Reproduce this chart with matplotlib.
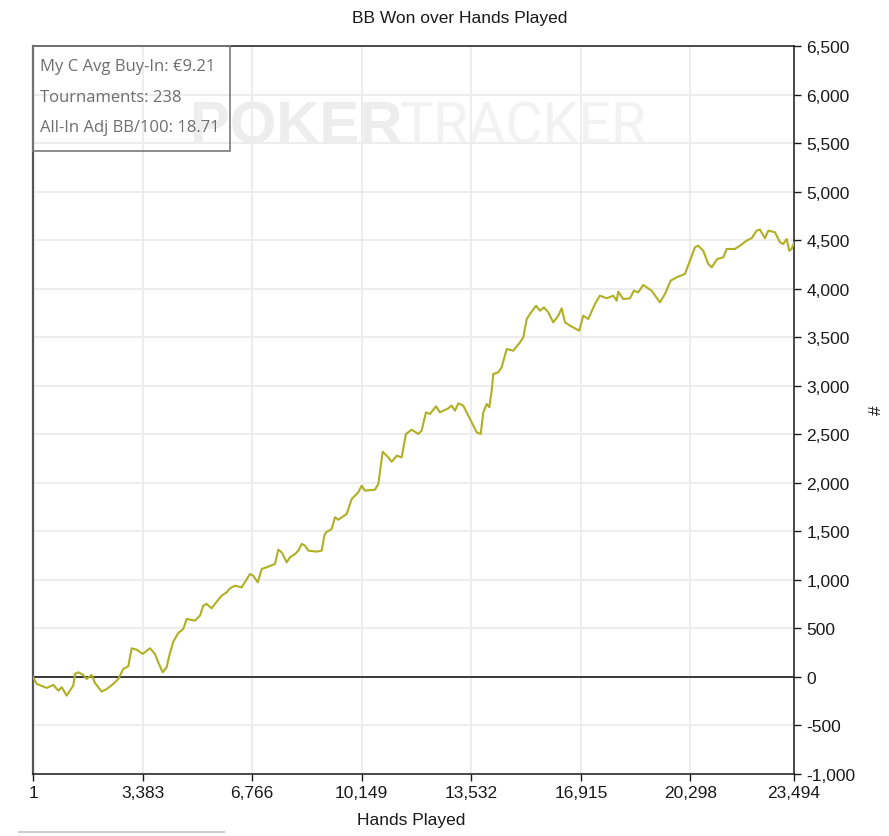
import matplotlib
matplotlib.use("Agg")
import matplotlib.pyplot as plt
from matplotlib.patches import Rectangle

# ---------------- data ----------------
hands = [1, 115, 424, 627, 781, 886, 1040, 1142, 1244, 1297, 1398, 1553, 1658, 1812, 1914,
         2121, 2275, 2479, 2633, 2788, 2942, 3047, 3201, 3386, 3612, 3766, 3868, 4004, 4127,
         4208, 4331, 4486, 4640, 4745, 5001, 5155, 5257, 5362, 5517, 5671, 5825, 5980, 6082,
         6236, 6442, 6699, 6802, 6938, 7061, 7216, 7472, 7574, 7679, 7833, 7935, 8090, 8191,
         8296, 8398, 8500, 8759, 8914, 8994, 9046, 9222, 9324, 9426, 9685, 9840, 10044, 10148,
         10250, 10559, 10661, 10796, 10969, 11074, 11228, 11382, 11515, 11691, 11895, 11999,
         12132, 12256, 12441, 12564, 12821, 12926, 13028, 13130, 13284, 13439, 13593, 13698,
         13821, 13902, 14006, 14087, 14161, 14210, 14365, 14469, 14624, 14828, 15034, 15136,
         15242, 15343, 15528, 15652, 15775, 15908, 16062, 16217, 16321, 16423, 16578, 16865,
         16988, 17142, 17349, 17503, 17710, 17914, 18019, 18068, 18222, 18429, 18552, 18685,
         18840, 19099, 19355, 19510, 19686, 19871, 20127, 20282, 20436, 20538, 20692, 20847,
         20952, 21125, 21310, 21415, 21671, 21826, 22033, 22187, 22341, 22443, 22598, 22700,
         22906, 23061, 23163, 23267, 23348, 23420, 23494]
bb_won = [0, -72, -113, -82, -141, -106, -192, -141, -89, 31, 48, 21, -21, 21, -62,
          -151, -124, -72, -21, 82, 110, 295, 281, 237, 295, 237, 151, 48, 100,
          219, 363, 453, 494, 597, 580, 631, 734, 752, 707, 775, 837, 872, 913,
          940, 923, 1060, 1043, 975, 1112, 1130, 1164, 1311, 1284, 1181, 1232, 1266, 1301,
          1370, 1353, 1301, 1291, 1301, 1455, 1490, 1524, 1645, 1620, 1679, 1833, 1902, 1970,
          1919, 1929, 1988, 2320, 2262, 2217, 2279, 2262, 2503, 2547, 2503, 2537,
          2726, 2709, 2788, 2726, 2767, 2795, 2743, 2819, 2795, 2692, 2589, 2520,
          2503, 2726, 2812, 2778, 2949, 3121, 3138, 3190, 3378, 3361, 3447, 3498,
          3687, 3739, 3824, 3773, 3807, 3756, 3653, 3722, 3797, 3653, 3619, 3567,
          3722, 3687, 3842, 3928, 3901, 3928, 3876, 3969, 3893, 3901, 3979, 3962,
          4038, 3979, 3859, 3945, 4082, 4117, 4151, 4288, 4426, 4443, 4391, 4254,
          4220, 4306, 4323, 4409, 4409, 4443, 4495, 4520, 4598, 4608, 4520, 4598,
          4581, 4478, 4460, 4512, 4391, 4409, 4470]

x_ticks = [1, 3383, 6766, 10149, 13532, 16915, 20298, 23494]
y_ticks = list(range(-1000, 6501, 500))
title = "BB Won over Hands Played"
x_label = "Hands Played"
y_label = "#"
info_lines = ["My C Avg Buy-In: €9.21", "Tournaments: 238", "All-In Adj BB/100: 18.71"]

# ---------------- figure ----------------
W, H = 889, 837
fig = plt.figure(figsize=(W / 100, H / 100), dpi=100)
fig.patch.set_facecolor("white")

def fx(px):
    return px / W

def fy(py):
    return 1 - py / H

L, R, T, B = 33, 794, 47, 775
ax = fig.add_axes([fx(L), fy(B), (R - L) / W, (B - T) / H])
ax.set_facecolor("none")

tick_font = "Liberation Sans"
ax.plot(hands, bb_won, color="#b0b024", lw=1.5, zorder=4, solid_joinstyle="round")
ax.axhline(0, color="#1a1a1a", lw=1.2, zorder=3)

ax.set_xlim(1, 23494)
ax.set_ylim(-1000, 6500)
ax.set_xticks(x_ticks)
ax.set_xticklabels([f"{v:,}" for v in x_ticks], fontfamily=tick_font, fontsize=12.5, color="#1a1a1a")
ax.set_yticks(y_ticks)
ax.set_yticklabels([f"{v:,}" for v in y_ticks], fontfamily=tick_font, fontsize=12.5, color="#1a1a1a")
ax.yaxis.tick_right()
ax.yaxis.set_label_position("right")
ax.tick_params(axis="both", direction="out", length=5, width=1, color="#1a1a1a")
ax.tick_params(axis="y", pad=4)
ax.tick_params(axis="x", pad=3)

ax.grid(True, color="#ececec", lw=1.3, zorder=0)
ax.set_axisbelow(True)
for side in ["top", "bottom", "right"]:
    ax.spines[side].set_color("#1a1a1a")
    ax.spines[side].set_linewidth(1.1)
ax.spines["left"].set_color("#555555")
ax.spines["left"].set_linewidth(1.6)

# watermark (behind the axes content)
fig.text(fx(190), fy(143), "POKER", fontfamily="Liberation Sans", fontweight="bold",
         fontsize=43, color="#ededed", va="baseline", ha="left", zorder=-1)
fig.text(fx(400), fy(143), "TRACKER", fontfamily="Roboto", fontsize=41,
         color="#f2f2f2", va="baseline", ha="left", zorder=-1)

# info box (transparent)
box = Rectangle((fx(33), fy(152)), fx(230) - fx(33), fy(47) - fy(152),
                transform=fig.transFigure, facecolor="none", edgecolor="#7a7a7a",
                lw=1.2, zorder=5)
fig.add_artist(box)
for i, line in enumerate(info_lines):
    fig.text(fx(40), fy(67 + i * 30.5), line, fontfamily=["Open Sans", "DejaVu Sans"],
             fontsize=12, color="#6e6e6e", va="center", ha="left", zorder=6)

# titles
fig.text(fx(460), fy(19), title, fontfamily=tick_font, fontsize=12.5,
         color="#1a1a1a", ha="center", va="center")
fig.text(fx(411), fy(821), x_label, fontfamily=tick_font, fontsize=12.5,
         color="#1a1a1a", ha="center", va="center")
fig.text(fx(876), fy(410), y_label, fontfamily=tick_font, fontsize=12.5,
         color="#1a1a1a", ha="center", va="center", rotation=90)

# scrollbar-like strip at the bottom
fig.add_artist(Rectangle((fx(18), fy(834)), fx(225) - fx(18), 2 / H,
                         transform=fig.transFigure, facecolor="#cdcdcd",
                         edgecolor="none"))

fig.savefig("out.png", dpi=100, facecolor="white")
